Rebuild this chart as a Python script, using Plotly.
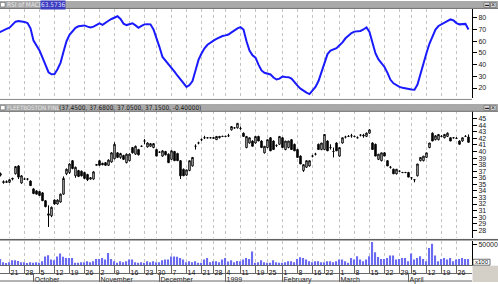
import plotly.graph_objects as go
import pandas as pd

# ---------------- data ----------------
holidays = ["1998-11-26", "1998-12-25", "1999-01-01", "1999-01-18", "1999-02-15", "1999-04-02"]
dates = [d for d in pd.bdate_range("1998-09-14", "1999-04-30") if d.strftime("%Y-%m-%d") not in holidays]

rsi_macd = [66, 67.5, 68, 69.5, 70.5, 71.5, 74, 76.7, 77.2, 77, 76.5, 75.5, 71, 60.5, 56.5, 52, 46, 39.5, 33.5, 31.8,
            32, 36, 41.5, 51, 60, 65.5, 69, 71.5, 72.8, 73.4, 73.5, 72.5, 71.7, 72.5, 74, 75.2, 74, 76, 77.5, 79,
            80.3, 81.3, 79, 75, 73.8, 74.5, 75.3, 73.5, 71.5, 73, 74.4, 74.5, 74.4, 70, 63, 55, 46.5, 43.4, 41, 37,
            34, 30.5, 27.5, 24, 21, 22.5, 26, 35, 44, 49.5, 54, 57, 59, 60.5, 62, 63.3, 64.4, 65, 65.7, 67.5,
            69.5, 71, 72, 70, 60, 52, 48, 46, 40, 35, 33, 32.3, 31.6, 29, 27.3, 28, 29.8, 29.5, 29.3, 28,
            24.5, 22, 19.5, 17.5, 16, 14.8, 17.5, 21, 26, 33.5, 42, 49, 51.9, 52.8, 54, 56.5, 59, 62.5, 65, 67,
            68.2, 68.5, 68.8, 70, 71.8, 67.9, 59, 49.5, 44.5, 41.5, 38, 33, 27, 24, 22.5, 21, 20.3, 19.6, 19.1, 18.8,
            18.6, 23, 32, 42, 50, 58, 64, 70, 73, 74.5, 75.8, 77.3, 78.6, 77.8, 75.5, 74.4, 74.7, 74.8, 70]

opens = [36.0, 36.2, 36.4, 35.4, 35.3, 35.3, 35.8, 36.6, 37.8, 35.2, 35.8, 35.8, 35.5, 34.3, 34.0, 33.9, 33.7, 32.5, 30.5, 30.2,
         32.6, 32.0, 32.3, 33.5, 36.6, 36.8, 38.6, 36.3, 37.1, 37.0, 36.8, 36.5, 35.8, 35.8, 37.9, 38.6, 38.2, 38.3, 37.9, 38.4,
         38.9, 39.8, 39.1, 39.4, 38.3, 38.6, 40.6, 39.6, 40.3, 40.8, 41.6, 40.7, 40.8, 40.6, 40.3, 39.9, 39.3, 40.0, 39.6, 38.8,
         40.0, 39.7, 38.6, 37.3, 36.4, 37.1, 37.8, 40.8, 41.3, 41.8, 42.1, 42.1, 42.1, 42.0, 41.8, 42.1, 42.3, 42.3, 42.4, 43.3,
         43.6, 43.6, 43.5, 42.8, 40.6, 41.3, 41.6, 41.3, 42.3, 41.6, 39.8, 40.6, 42.1, 41.6, 40.9, 41.1, 42.1, 40.3, 40.6, 41.8,
         41.1, 40.3, 39.3, 37.1, 37.6, 37.8, 39.3, 39.6, 41.1, 40.3, 40.3, 41.6, 40.6, 40.0, 41.3, 39.3, 41.3, 42.2, 42.3, 42.4,
         42.3, 42.1, 42.5, 42.5, 42.3, 42.8, 41.3, 41.1, 38.8, 38.6, 39.8, 38.6, 37.6, 37.3, 36.6, 37.0, 36.8, 36.8, 36.8, 36.0,
         35.7, 36.3, 38.6, 38.6, 39.1, 40.6, 42.8, 41.8, 41.8, 42.3, 42.1, 42.3, 42.1, 42.1, 42.0, 41.6, 41.6, 42.3, 42.2]
highs = [36.4, 36.8, 36.8, 35.6, 35.6, 35.8, 36.0, 37.8, 37.9, 36.4, 36.0, 35.9, 35.6, 34.4, 34.1, 34.0, 33.8, 32.6, 31.8, 31.6,
         32.7, 32.7, 33.6, 36.2, 37.4, 38.2, 38.7, 37.7, 37.2, 37.1, 36.9, 36.6, 36.1, 37.0, 38.1, 38.7, 38.3, 38.4, 38.8, 39.9,
         41.4, 39.9, 39.8, 39.5, 39.7, 39.7, 40.7, 40.9, 40.4, 40.9, 41.9, 41.4, 41.3, 41.3, 40.4, 40.0, 40.2, 40.1, 39.7, 40.2,
         40.1, 39.8, 38.7, 37.4, 37.2, 38.6, 39.1, 41.1, 41.5, 42.0, 42.4, 42.2, 42.2, 42.2, 42.3, 42.3, 42.4, 42.4, 42.7, 43.8,
         43.7, 44.3, 43.8, 42.9, 42.3, 42.1, 41.7, 42.3, 42.4, 41.7, 40.8, 41.8, 42.2, 41.7, 41.1, 42.3, 42.2, 41.6, 41.6, 41.9,
         41.2, 40.4, 39.4, 38.0, 38.6, 38.6, 39.5, 39.8, 41.2, 41.3, 42.6, 41.7, 41.1, 40.6, 41.4, 40.6, 42.1, 42.4, 42.5, 42.7,
         42.4, 42.3, 42.6, 42.7, 42.9, 43.4, 41.4, 41.2, 39.6, 39.8, 39.9, 38.7, 37.8, 37.4, 37.3, 37.1, 36.9, 36.9, 36.9, 36.1,
         35.8, 38.1, 39.1, 39.3, 39.8, 41.3, 42.9, 42.5, 42.6, 42.5, 42.6, 42.9, 42.2, 42.2, 42.2, 41.7, 42.1, 42.5, 42.6]
lows = [35.6, 36.0, 36.2, 35.1, 35.2, 35.2, 35.6, 36.5, 35.8, 35.1, 35.7, 35.6, 34.8, 33.5, 33.5, 33.3, 32.5, 31.5, 28.5, 30.0,
        31.9, 31.9, 32.2, 33.4, 36.4, 36.6, 37.3, 36.0, 36.1, 36.2, 35.8, 35.5, 35.7, 35.7, 37.9, 37.8, 37.9, 37.8, 37.8, 38.3,
        38.8, 39.0, 38.9, 38.7, 38.2, 38.5, 39.7, 39.5, 39.4, 40.7, 41.1, 40.6, 40.7, 40.5, 39.3, 39.8, 39.2, 39.4, 38.3, 38.7,
        38.6, 38.6, 35.8, 36.3, 36.3, 37.0, 37.7, 40.3, 41.1, 41.6, 41.9, 42.0, 42.0, 41.9, 41.8, 42.0, 42.2, 42.2, 42.2, 43.2,
        43.5, 43.5, 43.3, 42.3, 40.5, 41.2, 40.8, 41.2, 41.6, 40.6, 39.7, 40.5, 40.1, 40.3, 40.7, 41.0, 40.6, 40.2, 40.5, 40.3,
        40.1, 39.1, 38.1, 36.9, 37.5, 37.7, 39.1, 39.4, 40.3, 40.2, 40.2, 40.1, 40.3, 39.1, 40.1, 39.2, 41.2, 42.0, 42.2, 42.1,
        42.2, 42.0, 42.3, 42.1, 42.2, 42.7, 40.3, 39.3, 38.7, 38.5, 39.3, 37.8, 37.4, 36.6, 36.5, 36.9, 36.7, 36.7, 36.1, 35.7,
        35.3, 36.2, 38.5, 38.5, 39.0, 40.5, 41.6, 41.7, 41.7, 42.2, 42.0, 42.2, 41.6, 42.0, 41.9, 41.1, 41.5, 42.2, 41.4]
closes = [36.2, 36.6, 36.6, 35.3, 35.4, 35.7, 35.9, 37.7, 36.1, 36.3, 35.8, 35.8, 34.8, 33.6, 33.5, 33.3, 32.5, 31.6, 30.3, 31.5,
          32.0, 32.6, 33.5, 35.9, 37.3, 38.1, 37.4, 37.6, 36.2, 36.3, 35.9, 35.7, 36.0, 36.9, 38.0, 37.9, 38.0, 37.9, 38.7, 39.8,
          41.1, 39.1, 39.7, 38.8, 39.6, 39.6, 39.8, 40.8, 39.5, 40.8, 41.6, 41.3, 41.2, 41.2, 39.3, 39.9, 40.1, 39.5, 38.3, 40.1,
          38.6, 38.6, 36.3, 36.3, 37.2, 38.6, 39.1, 40.8, 41.3, 41.8, 42.1, 42.1, 42.1, 42.1, 42.3, 42.3, 42.3, 42.3, 42.4, 43.8,
          43.6, 44.3, 43.5, 42.3, 42.3, 42.1, 40.8, 42.3, 41.6, 40.6, 40.8, 41.8, 40.1, 40.3, 40.9, 42.3, 40.6, 41.6, 41.6, 40.3,
          40.1, 39.1, 38.1, 38.0, 38.6, 38.6, 39.3, 39.6, 40.3, 41.3, 42.6, 40.1, 40.6, 40.0, 40.1, 40.6, 42.1, 42.2, 42.3, 42.4,
          42.3, 42.1, 42.5, 42.4, 42.8, 43.3, 40.3, 39.3, 39.6, 39.8, 39.3, 37.8, 37.6, 36.6, 37.3, 37.0, 36.8, 36.8, 36.1, 36.0,
          35.7, 38.1, 39.1, 39.3, 39.8, 41.3, 41.6, 42.4, 42.6, 42.3, 42.6, 42.8, 41.6, 42.1, 42.0, 41.1, 42.1, 42.3, 41.4]

volume = [12000, 9000, 15000, 7000, 5000, 7000, 12000, 12000, 10000, 7000, 7000, 5000, 7000, 6000, 7000, 6000, 9500, 21000, 24000, 13500,
          12000, 21000, 28000, 20000, 17500, 17500, 17500, 5600, 5600, 7000, 7000, 9500, 7000, 9500, 15000, 15000, 17500, 13500, 29000, 15000,
          9500, 5600, 9500, 7000, 9500, 13500, 13500, 7000, 5600, 7000, 5600, 9500, 7000, 9500, 7000, 7000, 12000, 13500, 13500, 21000,
          21000, 20000, 17500, 13500, 7000, 9500, 7000, 9500, 5600, 5600, 13500, 17500, 7000, 9500, 9500, 7000, 13500, 17500, 9000, 12000,
          7000, 10000, 9500, 13500, 17500, 15000, 33000, 5600, 7000, 12000, 7000, 5600, 5600, 12000, 7000, 5600, 5600, 7000, 9500, 9500,
          7000, 15000, 19000, 17500, 13500, 9500, 7000, 9500, 9500, 7000, 7000, 9500, 9500, 7000, 9500, 13500, 13500, 9500, 5600, 17500,
          13500, 21400, 13500, 9500, 13500, 21400, 55600, 31000, 19900, 15000, 15000, 17500, 23000, 23000, 13500, 15000, 17500, 17500, 9500, 27800,
          13500, 17500, 21400, 15000, 9500, 41300, 51600, 23000, 9500, 15000, 17500, 13500, 17500, 9500, 13500, 15000, 17500, 15000, 15000]

rsi_ticks = [20, 30, 40, 50, 60, 70, 80]
price_ticks = list(range(28, 46))
volume_ticks = [50000]
title_rsi = "RSI of MACD"
title_rsi_value = "63.5736"
title_price = "FLEETBOSTON FINL"
title_price_values = "(37.4500, 37.6800, 37.0500, 37.1500, -0.40000)"

# ---------------- derived axis ticks ----------------
idx = list(range(len(dates)))
week_idx, week_txt, month_idx, month_txt = [], [], [], []
for i, d in enumerate(dates):
    if i == 0 or d.isocalendar()[1] != dates[i - 1].isocalendar()[1]:
        week_idx.append(i)
        week_txt.append(str(d.day))
    if i == 0 or d.month != dates[i - 1].month:
        month_idx.append(i)
        month_txt.append("1999" if (d.month == 1) else d.strftime("%B"))

W, H = 498, 284
PX = lambda x: x / W
PY = lambda y: 1 - y / H
XR = [1.83, 159.17]
XD = [0, PX(472)]
FONT = "Liberation Sans, Arial, sans-serif"
NARROW = "Liberation Sans Narrow, DejaVu Sans Condensed, Liberation Sans, sans-serif"
GRID = "#c4c4c4"
AXC = "#666"

fig = go.Figure()
fig.add_trace(go.Scatter(x=idx, y=rsi_macd, mode="lines", line=dict(color="#1a1aff", width=2),
                         xaxis="x", yaxis="y", hoverinfo="skip"))
fig.add_trace(go.Candlestick(x=idx, open=opens, high=highs, low=lows, close=closes,
                             xaxis="x2", yaxis="y2", whiskerwidth=0,
                             increasing=dict(line=dict(color="black", width=1), fillcolor="white"),
                             decreasing=dict(line=dict(color="black", width=1), fillcolor="black"),
                             hoverinfo="skip"))
fig.add_trace(go.Bar(x=idx, y=volume, width=0.4, marker=dict(color="#6b6bf2", line=dict(width=0)),
                     xaxis="x3", yaxis="y3", hoverinfo="skip"))
# invisible carrier so the month-row axis gets drawn
fig.add_trace(go.Scatter(x=[idx[0]], y=[0], mode="markers", marker=dict(opacity=0),
                         xaxis="x4", yaxis="y3", hoverinfo="skip"))

xcommon = dict(range=XR, domain=XD, showgrid=True, gridcolor=GRID, griddash="dot", gridwidth=1,
               tickmode="array", tickvals=week_idx, zeroline=False, fixedrange=True,
               showticklabels=False, ticks="")
ycommon = dict(side="right", showline=True, linecolor="black", linewidth=1, ticks="outside",
               ticklen=4, tickcolor="black", showgrid=False, zeroline=False,
               tickfont=dict(family=FONT, size=7, color="#222"), fixedrange=True)
row_style = dict(ticks="outside", ticklen=8, tickcolor=AXC, showline=True, linecolor=AXC,
                 ticklabelposition="outside right", tickangle=0,
                 tickfont=dict(family=FONT, size=7, color="#111"))

xc3 = dict(xcommon)
xc3.update(row_style, showticklabels=True, ticktext=week_txt)

fig.update_layout(
    width=W, height=H, margin=dict(l=0, r=0, t=0, b=0),
    paper_bgcolor="white", plot_bgcolor="white", showlegend=False,
    xaxis=dict(**xcommon, anchor="y"),
    xaxis2=dict(**xcommon, anchor="y2", rangeslider=dict(visible=False)),
    xaxis3=dict(**xc3, anchor="y3"),
    xaxis4=dict(**row_style, range=XR, domain=XD, overlaying="x3", anchor="free", position=PY(275),
                side="bottom", tickmode="array", tickvals=month_idx, ticktext=month_txt,
                showgrid=False, zeroline=False, fixedrange=True),
    yaxis=dict(**ycommon, domain=[PY(98), PY(8)], range=[11.5, 87.6], anchor="x",
               tickmode="array", tickvals=rsi_ticks),
    yaxis2=dict(**ycommon, domain=[PY(240), PY(111)], range=[26.75, 46.2], anchor="x2",
                tickmode="array", tickvals=price_ticks),
    yaxis3=dict(**ycommon, domain=[PY(267), PY(243)], range=[0, 57000], anchor="x3",
                tickmode="array", tickvals=volume_ticks, ticktext=["50000"]),
)

shapes = []
def rect(x0, y0, x1, y1, fill, line=None, lw=0):
    shapes.append(dict(type="rect", xref="paper", yref="paper", x0=PX(x0), x1=PX(x1), y0=PY(y1), y1=PY(y0),
                       fillcolor=fill, line=dict(color=line or fill, width=lw), layer="above"))
def hline(y, x0, x1, color, w=1):
    shapes.append(dict(type="line", xref="paper", yref="paper", x0=PX(x0), x1=PX(x1), y0=PY(y), y1=PY(y),
                       line=dict(color=color, width=w), layer="above"))

for ty in (0, 104):
    rect(0, ty, 498, ty + 7.5, "#a9a9a9")
    hline(ty + 7.5, 0, 498, "#6e6e6e")
    rect(0.5, ty + 1.5, 5, ty + 6, "white", "#555", 0.5)
    rect(484, ty + 1.5, 489.5, ty + 6.5, "#d8d8d8", "#555", 0.5)
    rect(490.5, ty + 1.5, 496, ty + 6.5, "#d8d8d8", "#555", 0.5)
hline(99.5, 0, 472, "#888")
hline(241, 0, 498, "#555")
hline(242, 0, 498, "#aaa")
hline(283, 0, 472, AXC)
rect(472.5, 267.5, 498, 284, "#d4d0c8")
rect(473, 261, 490, 267, "white", "#333", 0.7)
fig.update_layout(shapes=shapes)

ann = []
def text(x, y, s, color, size=6, bg=None, xanchor="left", family=FONT):
    ann.append(dict(xref="paper", yref="paper", x=PX(x), y=PY(y), text=s, showarrow=False,
                    xanchor=xanchor, yanchor="middle", font=dict(family=family, size=size, color=color),
                    bgcolor=bg, borderpad=0))
text(6, 3.8, title_rsi, "#e6e6e6", family=NARROW, size=6.5)
text(40, 3.8, title_rsi_value, "#dcdcff", bg="#3c3cbe", family=NARROW, size=6.5)
text(6, 107.8, title_price, "#e6e6e6", family=NARROW, size=6)
text(58, 107.8, title_price_values, "#1a1a1a", family=NARROW, size=6.5)
text(486.7, 4, "▬", "#222", size=4, xanchor="center")
text(493.2, 4, "×", "#222", size=7, xanchor="center")
text(486.7, 108, "▬", "#222", size=4, xanchor="center")
text(493.2, 108, "×", "#222", size=7, xanchor="center")
text(481.5, 264, "x100", "#111", size=6, xanchor="center")
fig.update_layout(annotations=ann)

fig.write_html("out.html")
